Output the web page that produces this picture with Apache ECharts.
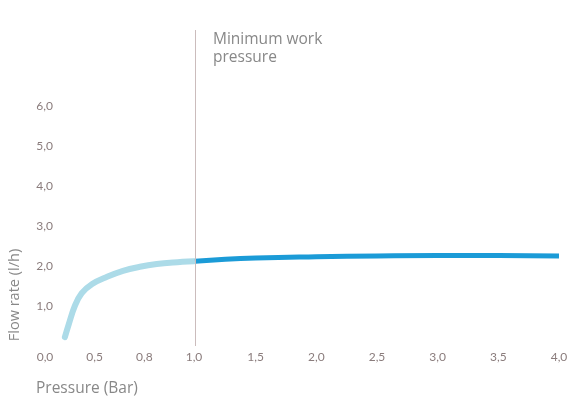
<!DOCTYPE html>
<html>
<head>
<meta charset="utf-8">
<script src="https://cdn.jsdelivr.net/npm/echarts@6/dist/echarts.min.js"></script>
<style>html,body{margin:0;padding:0;background:#fff}#c{width:579px;height:400px}</style>
</head>
<body>
<div id="c"></div>
<script>
// Low-pressure section: tick labels are evenly spaced (index positions 0..3)
var lowTickLabels = ['0,0', '0,5', '0,8', '1,0'];
// Curve in the low section: x = position along the tick index, y = flow rate (l/h)
var lowX = [0.40, 0.48, 0.60, 0.74, 0.95, 1.25, 1.57, 1.91, 2.25, 2.58, 3.0];
var lowY = [0.22, 0.55, 1.00, 1.32, 1.55, 1.73, 1.88, 1.98, 2.05, 2.09, 2.12];
// Working section: pressure (bar) vs flow rate (l/h)
var highX = [1.0, 1.25, 1.5, 2.0, 2.5, 3.0, 3.5, 4.0];
var highY = [2.12, 2.17, 2.20, 2.23, 2.25, 2.26, 2.26, 2.25];
var yTickLabels = ['1,0', '2,0', '3,0', '4,0', '5,0', '6,0'];
var minWorkPressure = 1.0;

function pairs(xs, ys) { return xs.map(function (x, i) { return [x, ys[i]]; }); }

var chart = echarts.init(document.getElementById('c'), null, {renderer: 'canvas'});
var tickColor = '#8a7c7c';
var tickFont = {color: tickColor, fontSize: 12, fontFamily: 'Lato'};
var yAxisBase = {
  type: 'value', min: 0, max: 7.9, interval: 1,
  splitLine: {show: false}, axisLine: {show: false}, axisTick: {show: false}
};
chart.setOption({
  animation: false,
  grid: [
    {left: 45, width: 149, top: 30, bottom: 54},
    {left: 195, width: 364, top: 30, bottom: 54}
  ],
  xAxis: [
    {
      gridIndex: 0, type: 'value', min: 0, max: 3, interval: 1,
      axisLine: {show: false}, axisTick: {show: false}, splitLine: {show: false},
      axisLabel: Object.assign({margin: 5, formatter: function (v) { return lowTickLabels[v] || ''; }}, tickFont)
    },
    {
      gridIndex: 1, type: 'value', min: 1, max: 4, interval: 0.5,
      axisLine: {show: false}, axisTick: {show: false}, splitLine: {show: false},
      axisLabel: Object.assign({margin: 5, formatter: function (v) {
        return v === 1 ? '' : v.toFixed(1).replace('.', ',');
      }}, tickFont)
    }
  ],
  yAxis: [
    Object.assign({gridIndex: 0, axisLabel: Object.assign({margin: -8, formatter: function (v) {
      return yTickLabels[v - 1] || '';
    }}, tickFont)}, yAxisBase),
    Object.assign({gridIndex: 1, axisLabel: {show: false}}, yAxisBase)
  ],
  series: [
    {
      type: 'line', xAxisIndex: 0, yAxisIndex: 0, smooth: 0.4, symbol: 'none',
      data: pairs(lowX, lowY),
      lineStyle: {color: '#acdbe8', width: 6, cap: 'round'}
    },
    {
      type: 'line', xAxisIndex: 1, yAxisIndex: 1, smooth: true, symbol: 'none',
      data: pairs(highX, highY),
      lineStyle: {color: '#1b9bd7', width: 5},
      markLine: {
        silent: true, symbol: 'none',
        lineStyle: {color: '#cbbcbc', width: 1, type: 'solid'},
        label: {show: false},
        data: [{xAxis: minWorkPressure}]
      }
    }
  ],
  graphic: [
    {type: 'text', x: 213, y: 31, style: {text: 'Minimum work\npressure', fill: '#888', font: '15.5px "Open Sans"', lineHeight: 18}},
    {type: 'text', x: 36, y: 381, style: {text: 'Pressure (Bar)', fill: '#888', font: '15.5px "Open Sans"'}},
    {type: 'text', x: 15, y: 295, rotation: Math.PI / 2, style: {text: 'Flow rate (l/h)', fill: '#888', font: '14.5px "Open Sans"', align: 'center', verticalAlign: 'middle'}}
  ]
});
</script>
</body>
</html>
